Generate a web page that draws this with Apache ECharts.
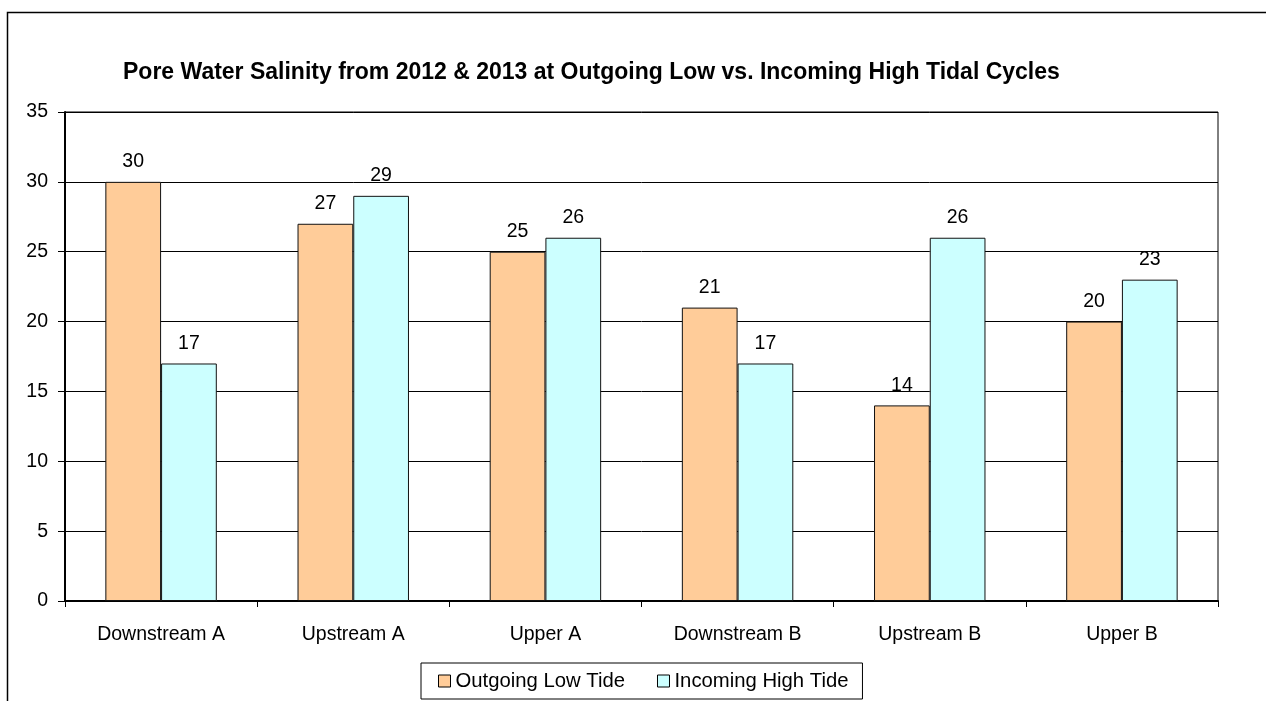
<!DOCTYPE html>
<html>
<head>
<meta charset="utf-8">
<script src="https://cdn.jsdelivr.net/npm/echarts@6/dist/echarts.min.js"></script>
<style>
html,body{margin:0;padding:0;background:#fff;}
#chart{width:1266px;height:701px;}
</style>
</head>
<body>
<div id="chart"></div>
<script>
var categories = ['Downstream A', 'Upstream A', 'Upper A', 'Downstream B', 'Upstream B', 'Upper B'];
var outgoingLow = [30, 27, 25, 21, 14, 20];
var incomingHigh = [17, 29, 26, 17, 26, 23];
var seriesNames = ['Outgoing Low Tide', 'Incoming High Tide'];
var yTicks = {min: 0, max: 35, interval: 5};
var titleText = 'Pore Water Salinity from 2012 & 2013 at Outgoing Low vs. Incoming High Tidal Cycles';

var FONT = 'Arial, "Liberation Sans", sans-serif';
var chart = echarts.init(document.getElementById('chart'), null, {renderer: 'canvas'});

function barSeries(name, data, color) {
  return {
    name: name,
    type: 'bar',
    data: data,
    barGap: '0%',
    barCategoryGap: '42%',
    itemStyle: {color: color, borderColor: '#111', borderWidth: 1},
    label: {
      show: true,
      position: 'top',
      distance: 10,
      color: '#000',
      fontFamily: FONT,
      fontSize: 19.5
    },
    emphasis: {disabled: true}
  };
}

chart.setOption({
  animation: false,
  backgroundColor: '#fff',
  graphic: [{
    type: 'rect',
    left: 5, top: 10,
    shape: {width: 1400, height: 900},
    style: {fill: 'none', stroke: '#000', lineWidth: 1.5},
    silent: true
  }],
  title: {
    text: titleText,
    left: 123,
    top: 61,
    padding: 0,
    textStyle: {fontFamily: FONT, fontWeight: 'bold', fontSize: 23, color: '#000'}
  },
  legend: {
    data: seriesNames,
    left: 421,
    top: 663,
    padding: [8, 14, 8, 17],
    borderColor: '#000',
    borderWidth: 1,
    itemWidth: 12,
    itemHeight: 12,
    itemGap: 32,
    icon: 'rect',
    textStyle: {fontFamily: FONT, fontSize: 20.3, color: '#000'},
    itemStyle: {borderColor: '#000', borderWidth: 1}
  },
  grid: {
    left: 65, top: 112, right: 48, bottom: 100,
    show: true, borderColor: '#000', borderWidth: 1,
    containLabel: false
  },
  xAxis: {
    type: 'category',
    data: categories,
    boundaryGap: true,
    axisLine: {lineStyle: {color: '#000', width: 2}},
    axisTick: {show: true, length: 6, lineStyle: {color: '#000', width: 1}},
    axisLabel: {margin: 24, color: '#000', fontFamily: FONT, fontSize: 19.5, interval: 0},
    splitLine: {show: false}
  },
  yAxis: {
    type: 'value',
    min: yTicks.min, max: yTicks.max, interval: yTicks.interval,
    axisLine: {show: true, lineStyle: {color: '#000', width: 2}},
    axisTick: {show: true, length: 7, lineStyle: {color: '#000', width: 1}},
    axisLabel: {margin: 17, color: '#000', fontFamily: FONT, fontSize: 19.5},
    splitLine: {show: true, lineStyle: {color: '#000', width: 1}}
  },
  series: [
    barSeries(seriesNames[0], outgoingLow, '#FFCC99'),
    barSeries(seriesNames[1], incomingHigh, '#CCFFFF')
  ]
});
</script>
</body>
</html>
